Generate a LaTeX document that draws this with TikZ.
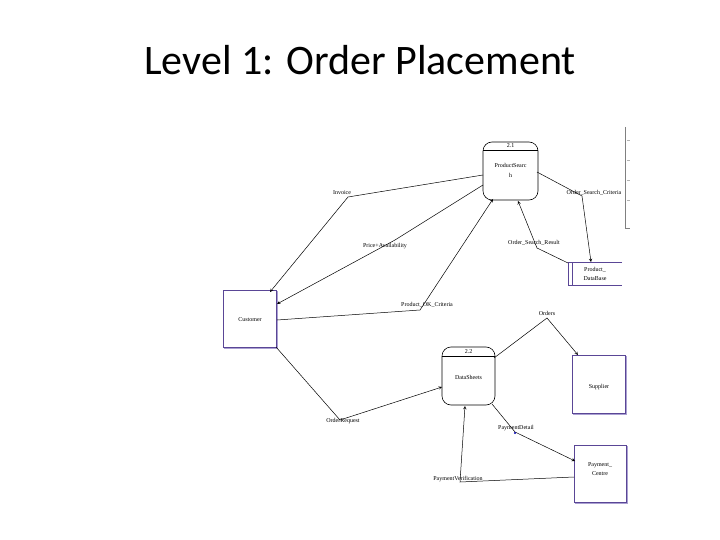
\documentclass[tikz,border=0pt]{standalone}
\usepackage{fontspec}
\setmainfont{Liberation Serif}
\newfontfamily\titlefont{Carlito}
\definecolor{entc}{RGB}{90,70,150}
\definecolor{ents}{RGB}{170,160,210}
\begin{document}
\begin{tikzpicture}[x=1pt,y=-1pt,
  proc/.style={draw,rounded corners=9pt,line width=0.6pt},
  ent/.style={draw=entc,line width=0.8pt,fill=white},
  flow/.style={line width=0.5pt},
  arr/.style={flow,-stealth},
  lab/.style={font=\fontsize{6}{7}\selectfont,inner sep=1pt},
  txt/.style={font=\fontsize{6}{7}\selectfont,align=center}]
\useasboundingbox (0,0) rectangle (720,540);
\node[font=\titlefont\fontsize{42}{48}\selectfont] (title) at (360,60) {Level 1: Order Placement};
% processes
\draw[proc] (483,142) rectangle (538,200);
\draw (483,150) -- (538,150);
\node[txt] (p1) at (510.5,170) {ProductSearc\\[3pt]h};
\node[txt] (p1n) at (510.5,146) {2.1};
\coordinate (p1l1) at (483,175); \coordinate (p1l2) at (483,185);
\coordinate (p1b) at (493,199); \coordinate (p1br) at (518,201);
\coordinate (p1r) at (537,172);
\draw[proc] (442,347) rectangle (495,405);
\draw (442,356) -- (495,356);
\node[txt] (p2n) at (468.5,351.5) {2.2};
\node[txt] (p2) at (468.5,377) {DataSheets};
\coordinate (p2l) at (442,387); \coordinate (p2tr) at (494,358);
\coordinate (p2br) at (492,404); \coordinate (p2b) at (465,406);
% entities
\draw[ents,line width=1.5pt] (225,292) rectangle (277,348);
\draw[ent] (223,290) rectangle (276,347);
\node[txt] (cust) at (250,320) {Customer};
\draw[ents,line width=1.5pt] (574,357) rectangle (626,414);
\draw[ent] (572,355) rectangle (625,413);
\node[txt] (sup) at (599,387) {Supplier};
\draw[ents,line width=1.5pt] (576,447) rectangle (627,503);
\draw[ent] (574,445) rectangle (626,502);
\node[txt] (pay) at (600,469) {Payment\_\\[2pt]Centre};
% data store
\draw[ent,line width=0.6pt] (622,262) -- (568,262) -- (568,285) -- (622,285);
\draw[ent,line width=0.6pt] (572,262) -- (572,285);
\node[txt,anchor=west] (db) at (580,273.5) {Product\_\\[2pt]DataBase};
% stray fragment at right edge
\draw[gray,line width=0.6pt] (625,127) -- (625,228) -- (630,228);
\draw[gray!60] (627,140)--(630,140) (627,160)--(630,160) (627,180)--(630,180) (627,200)--(630,200);
% labels
\node[lab] (inv) at (342,193) {Invoice};
\node[lab] (pa) at (385,246) {Price+Availability};
\node[lab] (pok) at (427,305) {Product\_OK\_Criteria};
\node[lab] (osc) at (594,193) {Order\_Search\_Criteria};
\node[lab] (osr) at (534,243) {Order\_Search\_Result};
\node[lab] (ord) at (547,313) {Orders};
\node[lab] (oreq) at (343,421) {OrderRequest};
\node[lab] (pd) at (516,428) {PaymentDetail};
\node[lab] (pv) at (458,479) {PaymentVerification};
% connectors
\draw[arr] (p1l1) -- (348,197) -- (270,292);
\draw[arr] (p1l2) -- (395,240) -- (277,304);
\draw[arr] (277,320) -- (420,310) -- (p1b);
\draw[arr] (p1r) -- (582,196) -- (591,262);
\draw[arr] (568,263) -- (537,248) -- (p1br);
\draw[arr] (p2tr) -- (547,318) -- (578,355);
\draw[arr] (276,347) -- (340,420) -- (p2l);
\draw[arr] (p2br) -- (515,432) -- (575,461);
\fill[blue!70!black] (515,433) circle (1.2pt);
\draw[arr] (574,477) -- (460,482) -- (p2b);
\end{tikzpicture}
\end{document}
